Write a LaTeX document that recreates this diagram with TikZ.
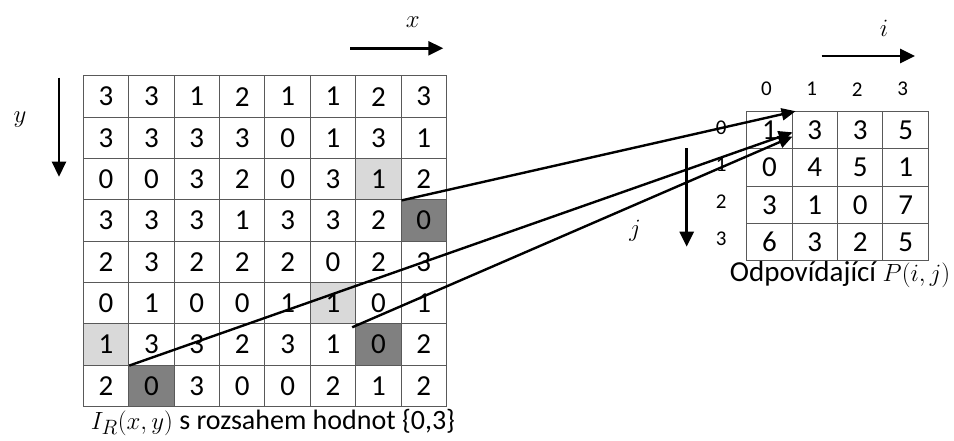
\documentclass[tikz,border=0pt]{standalone}
\usepackage{fontspec}
\setmainfont{Carlito}
\usetikzlibrary{arrows.meta,backgrounds}
\begin{document}
\begin{tikzpicture}[x=1pt,y=-1pt,line cap=butt,line join=miter,>={Triangle[length=15pt,width=14pt]}]
		\tikzset{cell/.style={draw=black!65,line width=1pt,inner sep=0pt,minimum width=45.4pt,font=\fontsize{29}{32}\selectfont},
			bigcell/.style={cell,minimum height=41.3pt},
			smallcell/.style={cell,minimum height=37.3pt},
			idx/.style={inner sep=0pt,font=\fontsize{21}{24}\selectfont},
			axislabel/.style={inner sep=0pt,font=\fontsize{33}{36}\selectfont},
			light/.style={fill=black!15},
			dark/.style={fill=black!50},
			link/.style={->,line width=2.4pt,>={Triangle[length=14pt,width=12pt]}}
		}
		\useasboundingbox (0,0) rectangle (954,441);
		\foreach \row [count=\r from 0] in {{3,3,1,2,1,1,2,3},{3,3,3,3,0,1,3,1},{0,0,3,2,0,3,1,2},{3,3,3,1,3,3,2,0},{2,3,2,2,2,0,2,3},{0,1,0,0,1,1,0,1},{1,3,3,2,3,1,0,2},{2,0,3,0,0,2,1,2}}
		\foreach \v [count=\c from 0] in \row
		\node[bigcell] (p-\r-\c) at ({83.3+45.4*(\c+0.5)},{76+41.3*(\r+0.5)}) {\v};
		\foreach \row [count=\r from 0] in {{1,3,3,5},{0,4,5,1},{3,1,0,7},{6,3,2,5}}
		\foreach \v [count=\c from 0] in \row
		\node[smallcell] (q-\r-\c) at ({746.7+45.4*(\c+0.5)},{111.7+37.3*(\r+0.5)}) {\v};
		\begin{scope}[on background layer]
			\foreach \r/\c in {2/6,5/5,6/0}
			\fill[light] (p-\r-\c.south west) rectangle (p-\r-\c.north east);
			\foreach \r/\c in {3/7,6/6,7/1}
			\fill[dark] (p-\r-\c.south west) rectangle (p-\r-\c.north east);
		\end{scope}
		\foreach \c in {0,...,3}
		\node[idx] (ci-\c) at ([shift={(-3,-22)}]q-0-\c.north) {\c};
		\foreach \r in {0,...,3}
		\node[idx] (rj-\r) at ([shift={(-25,-3)}]q-\r-0.west) {\r};
		\coordinate (xa) at (350,48.3);
		\coordinate (xb) at (443.3,48.3);
		\coordinate (ya) at (59,77.7);
		\coordinate (yb) at (59,176.7);
		\coordinate (ia) at (821.7,56);
		\coordinate (ib) at (915,56);
		\coordinate (ja) at (686.7,148.3);
		\coordinate (jb) at (686.7,246.7);
		\draw[->,line width=2.6pt] (xa)--(xb);
		\draw[->,line width=2.6pt] (ya)--(yb);
		\draw[->,line width=2.6pt] (ia)--(ib);
		\draw[->,line width=2.6pt] (ja)--(jb);
		\node[axislabel] (xl) at (412.7,22) {$x$};
		\node[axislabel] (yl) at (20,120) {$y$};
		\node[axislabel] (il) at (884,28) {$i$};
		\node[axislabel] (jl) at (635,231) {$j$};
		\coordinate (s3) at ([shift={(-4,3)}]p-5-5.south east);
		\coordinate (t1) at ([xshift=4pt]q-0-1.north west);
		\coordinate (t2) at ([yshift=-2pt]q-0-0.east);
		\coordinate (t3) at ([yshift=13pt]q-0-0.south east);
		\draw[link] (p-2-6.south east)--(t1);
		\draw[link] (p-6-0.south east)--(t2);
		\draw[link] (s3)--(t3);
		\node[font=\fontsize{28}{32}\selectfont] (capl) at (273,422) {{\fontsize{32}{34}\selectfont$I_R(x,y)$} s rozsahem hodnot \{0,3\}};
		\node[font=\fontsize{29}{32}\selectfont] (capr) at (840,275) {Odpovídající {\fontsize{34}{36}\selectfont$P(i,j)$}};
	\end{tikzpicture}
\end{document}
